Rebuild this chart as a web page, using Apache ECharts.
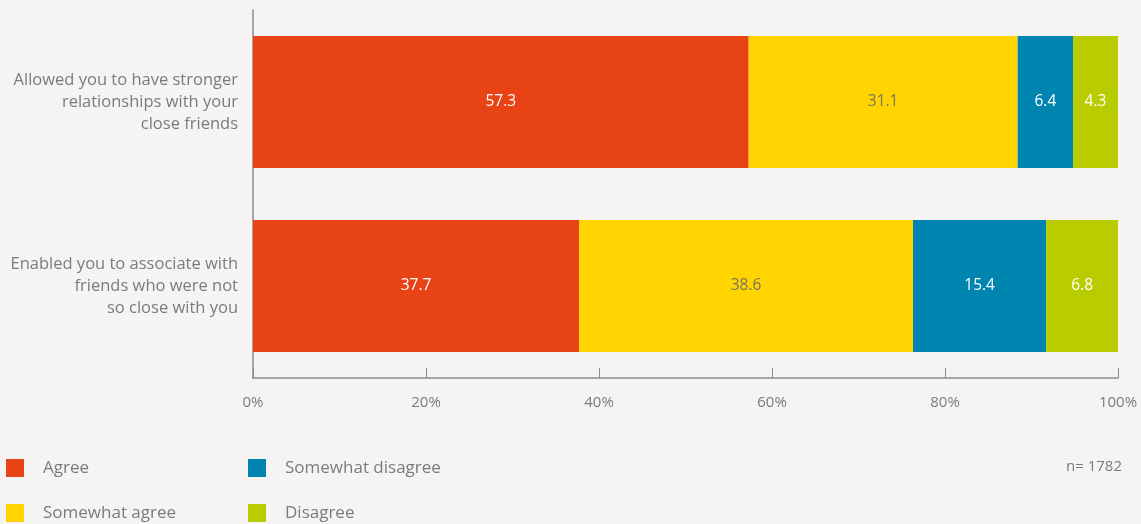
<!DOCTYPE html>
<html>
<head>
<meta charset="utf-8">
<script src="https://cdn.jsdelivr.net/npm/echarts@6/dist/echarts.min.js"></script>
<style>
  html, body { margin: 0; padding: 0; background: #f5f4f2; }
  #chart { width: 1141px; height: 524px; }
</style>
</head>
<body>
<div id="chart"></div>
<script>
const categories = [
  'Allowed you to have stronger\nrelationships with your\nclose friends',
  'Enabled you to associate with\nfriends who were not\nso close with you'
];
const agree = [57.3, 37.7];
const somewhatAgree = [31.1, 38.6];
const somewhatDisagree = [6.4, 15.4];
// printed labels for Disagree, and the bar length as drawn in the picture
const disagreeLabels = [4.3, 6.8];
const disagreeBars = [5.2, 8.3];
const xTicks = [0, 20, 40, 60, 80, 100];
const sampleNote = 'n= 1782';

const FONT = '"Open Sans", Lato, sans-serif';
const GREY = '#7b7b7b';

const chart = echarts.init(document.getElementById('chart'));

function barSeries(name, values, color, labelColor, labels) {
  return {
    name: name,
    type: 'bar',
    stack: 'total',
    barWidth: 132,
    data: values,
    itemStyle: { color: color },
    label: {
      show: true,
      position: 'inside',
      color: labelColor,
      fontFamily: FONT,
      fontSize: 15.5,
      formatter: p => (labels ? labels[p.dataIndex] : p.value).toFixed(1)
    },
    emphasis: { disabled: true }
  };
}

function legendBlock(names, left) {
  return {
    data: names,
    orient: 'vertical',
    left: left,
    top: 459,
    padding: 0,
    itemWidth: 18,
    itemHeight: 18,
    itemGap: 27,
    icon: 'rect',
    selectedMode: false,
    textStyle: { color: GREY, fontFamily: FONT, fontSize: 17, padding: [0, 0, 0, 14] }
  };
}

const option = {
  backgroundColor: '#f5f4f2',
  animation: false,
  grid: { left: 253, right: 23, top: 10, bottom: 146 },
  xAxis: {
    type: 'value',
    min: xTicks[0],
    max: xTicks[xTicks.length - 1],
    interval: 20,
    axisLine: { show: true, lineStyle: { color: '#8c8c8c', width: 1.5 } },
    axisTick: { show: true, inside: true, length: 10, lineStyle: { color: '#8c8c8c', width: 1 } },
    splitLine: { show: false },
    axisLabel: {
      formatter: v => v + '%',
      color: GREY,
      fontFamily: FONT,
      fontSize: 15,
      margin: 17
    }
  },
  yAxis: {
    type: 'category',
    inverse: true,
    data: categories,
    axisLine: { show: true, lineStyle: { color: '#8c8c8c', width: 1.5 } },
    axisTick: { show: false },
    axisLabel: {
      color: GREY,
      fontFamily: FONT,
      fontSize: 16.5,
      lineHeight: 22,
      align: 'right',
      margin: 15,
      padding: [10, 0, 0, 0]
    }
  },
  legend: [
    legendBlock(['Agree', 'Somewhat agree'], 6),
    legendBlock(['Somewhat disagree', 'Disagree'], 248)
  ],
  graphic: [
    {
      type: 'text',
      right: 19,
      top: 459,
      style: { text: sampleNote, fill: GREY, font: '15px ' + FONT }
    }
  ],
  series: [
    barSeries('Agree', agree, '#e84315', '#ffffff'),
    barSeries('Somewhat agree', somewhatAgree, '#ffd400', '#7a7460'),
    barSeries('Somewhat disagree', somewhatDisagree, '#0085b0', '#ffffff'),
    barSeries('Disagree', disagreeBars, '#b9cc00', '#ffffff', disagreeLabels)
  ]
};

chart.setOption(option);
</script>
</body>
</html>
